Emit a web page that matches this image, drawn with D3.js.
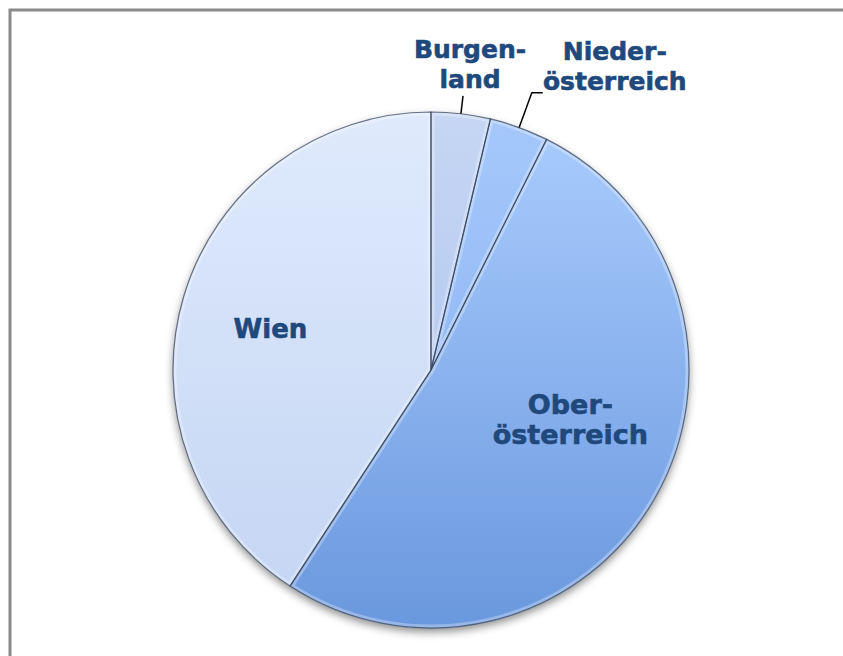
<!DOCTYPE html>
<html>
<head>
<meta charset="utf-8">
<script src="https://cdn.jsdelivr.net/npm/d3@7"></script>
<style>
  html, body { margin: 0; padding: 0; background: #fff; overflow: hidden; }
  .label { font-family: "DejaVu Sans", Verdana, sans-serif; font-weight: bold; fill: #1f497d; stroke: #1f497d; stroke-width: 0.6px; }
</style>
</head>
<body>
<svg id="chart" width="843" height="656"></svg>
<script>
// data (share in %)
const regions = ['Burgenland', 'Niederösterreich', 'Oberösterreich', 'Wien']
const shares = [3.7, 3.7, 51.8, 40.8]
const labelLines = [['Burgen-', 'land'], ['Nieder-', 'österreich'], ['Ober-', 'österreich'], ['Wien']]
const colorTop = ['#c6d6f4', '#a6c8fb', '#abcdfe', '#dfeafc']
const colorBottom = ['#a9bfea', '#80acf0', '#6a98de', '#c3d4f3']

const width = 843, height = 656
const cx = 431, cy = 370, radius = 258

const svg = d3.select('#chart')
const defs = svg.append('defs')

// frame of the chart area (right and bottom sides run off the picture)
svg.append('rect')
  .attr('x', 10).attr('y', 10)
  .attr('width', 900).attr('height', 700)
  .attr('fill', '#fff')
  .attr('stroke', '#8a8a8a')
  .attr('stroke-width', 3)

const shadow = defs.append('filter').attr('id', 'shadow')
  .attr('x', '-20%').attr('y', '-20%').attr('width', '140%').attr('height', '140%')
shadow.append('feDropShadow')
  .attr('dx', 0).attr('dy', 4).attr('stdDeviation', 4)
  .attr('flood-color', '#000').attr('flood-opacity', 0.45)

const data = regions.map((r, i) => ({ region: r, value: shares[i], lines: labelLines[i], i }))

data.forEach(d => {
  const g = defs.append('linearGradient').attr('id', 'grad' + d.i)
    .attr('gradientUnits', 'userSpaceOnUse')
    .attr('x1', 0).attr('y1', -radius).attr('x2', 0).attr('y2', radius)
  g.append('stop').attr('offset', '0%').attr('stop-color', colorTop[d.i])
  g.append('stop').attr('offset', '100%').attr('stop-color', colorBottom[d.i])
})

const pie = d3.pie().sort(null).value(d => d.value)
const arc = d3.arc().innerRadius(0).outerRadius(radius)
const arcs = pie(data)

const g = svg.append('g').attr('transform', 'translate(' + cx + ',' + cy + ')')

const base = g.append('g').attr('filter', 'url(#shadow)')
base.selectAll('path.slice')
  .data(arcs)
  .join('path')
  .attr('class', 'slice')
  .attr('d', arc)
  .attr('fill', d => 'url(#grad' + d.data.i + ')')

// bevel: light inner edge clipped to each slice
arcs.forEach(d => {
  defs.append('clipPath').attr('id', 'clip' + d.data.i)
    .append('path').attr('d', arc(d))
})
g.selectAll('path.bevel')
  .data(arcs)
  .join('path')
  .attr('class', 'bevel')
  .attr('d', arc)
  .attr('fill', 'none')
  .attr('stroke', '#fff')
  .attr('stroke-opacity', 0.3)
  .attr('stroke-width', 7)
  .attr('clip-path', d => 'url(#clip' + d.data.i + ')')

g.selectAll('path.edge')
  .data(arcs)
  .join('path')
  .attr('class', 'edge')
  .attr('d', arc)
  .attr('fill', 'none')
  .attr('stroke', '#34465f')
  .attr('stroke-opacity', 0.75)
  .attr('stroke-width', 1.2)

// labels inside the big slices
const inside = d3.arc().innerRadius(155).outerRadius(155)
const nudge = { Wien: [-12, 3], Oberösterreich: [5, -28] }
arcs.filter(d => d.data.value > 10).forEach(d => {
  const [x, y] = inside.centroid(d)
  const [nx, ny] = nudge[d.data.region]
  const fs = d.data.lines.length > 1 ? 27 : 26
  const n = d.data.lines.length
  const t = g.append('text').attr('class', 'label')
    .attr('text-anchor', 'middle')
    .style('font-size', fs + 'px')
  d.data.lines.forEach((line, k) => {
    t.append('tspan')
      .attr('x', x + nx)
      .attr('y', y + ny + (k - (n - 1) / 2) * 30 + fs * 0.36)
      .text(line)
  })
})

// small slices: labels outside with leader lines
const small = arcs.filter(d => d.data.value <= 10)
const leaderLen = [18, 37]
const elbow = [0, 11]
small.forEach((d, k) => {
  const a = (d.startAngle + d.endAngle) / 2
  const p0 = [Math.sin(a) * radius, -Math.cos(a) * radius]
  const r1 = radius + leaderLen[k]
  const p1 = [Math.sin(a) * r1, -Math.cos(a) * r1]
  const p2 = [p1[0] + elbow[k], p1[1]]
  g.append('path')
    .attr('d', d3.line()([p0, p1, p2]))
    .attr('fill', 'none')
    .attr('stroke', '#000')
    .attr('stroke-width', 1.5)

  const fs = 25
  const t = g.append('text').attr('class', 'label')
    .attr('text-anchor', 'middle')
    .style('font-size', fs + 'px')
  const tx = k === 0 ? p1[0] + 7 : p2[0] + 72
  const lastBase = k === 0 ? p1[1] - 8 : p2[1] - 3
  d.data.lines.forEach((line, j) => {
    t.append('tspan')
      .attr('x', tx)
      .attr('y', lastBase - (d.data.lines.length - 1 - j) * 30)
      .text(line)
  })
})
</script>
</body>
</html>
